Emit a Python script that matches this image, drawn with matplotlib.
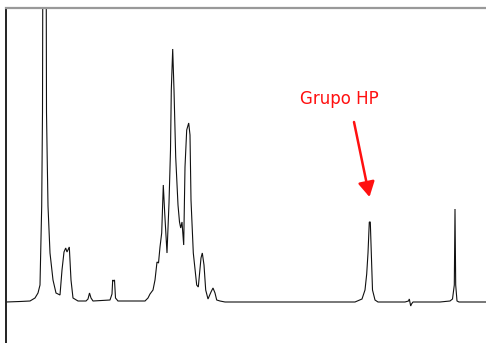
import matplotlib
matplotlib.use("Agg")
import matplotlib.pyplot as plt

# Espectro trazado a mano desde la imagen (posicion horizontal, intensidad sobre la linea base)
pos = [6, 20, 30, 35, 38, 40, 41.7, 42.5, 43, 46, 46.5, 47.2, 48, 50, 53, 56, 60,
       62, 64, 65.7, 67, 69.3, 71, 73, 78,
       86, 88, 89.5, 91, 93,
       110, 112, 112.7, 113.5, 114.5, 115.5, 118,
       130, 145, 148, 150, 153, 155, 157, 158.5, 160, 161.7, 163.3, 164.7, 167, 169,
       170.5, 171.3, 172.7, 174, 175.7, 178, 179.5, 180.7, 182, 183.7, 185, 186.7,
       188.7, 190, 191, 193.3, 196.7, 198.3, 201, 202.3, 204, 205.7, 208, 211, 213,
       215, 216.7, 220, 225,
       300, 355, 362, 365, 366.7, 368, 369.3, 370.3, 371.3, 372.5, 375, 378,
       405, 408.5, 409.3, 410.7, 411.5, 413,
       440, 450, 452.5, 454.3, 455, 455.7, 457, 459,
       486]
intensity = [0, 0.5, 1, 4, 9, 17, 96, 190, 420, 420, 190, 144, 96, 49, 22, 9, 7,
             32, 50, 54, 50, 55, 22, 4, 1,
             1, 3, 9, 4, 1,
             2, 8, 22, 21, 22, 4, 1,
             1, 1, 4, 8, 12, 22, 40, 39, 55, 69, 117, 89, 49, 99,
             152, 212, 253, 212, 145, 97, 80, 74, 80, 57, 135, 172,
             179, 167, 102, 49, 17, 15, 44, 49, 37, 12, 3, 10, 14,
             9, 2, 1, 0,
             0, 0, 3, 12, 28, 49, 80, 80, 49, 12, 2, 0,
             0, 1, 3, -4, -2, 0,
             0, 1, 3, 17, 93, 17, 1, 0,
             0]

etiqueta = "Grupo HP"

fig = plt.figure(figsize=(4.86, 3.43), dpi=100)
# el marco ocupa de x=6 a 486 px y de y=8 a 343 px
ax = fig.add_axes([6 / 486, 0, 480 / 486, 335 / 343])
ax.plot(pos, intensity, color="#111111", lw=0.8, solid_joinstyle="miter")
ax.set_xlim(6, 486)
ax.set_ylim(-41, 294)

for s in ("right", "bottom"):
    ax.spines[s].set_visible(False)
ax.spines["left"].set_color("#222222")
ax.spines["left"].set_linewidth(1.4)
ax.spines["top"].set_color("#999999")
ax.spines["top"].set_linewidth(1.6)
ax.set_xticks([])
ax.set_yticks([])

ax.text(339, 203, etiqueta, color="#ff1010", fontsize=12,
        ha="center", va="center", family="DejaVu Sans")
ax.annotate("", xy=(369.5, 105), xytext=(354, 180),
            arrowprops=dict(arrowstyle="-|>,head_length=0.9,head_width=0.5",
                            color="#ff1010", lw=1.8, shrinkA=0, shrinkB=0))

fig.savefig("out.png", dpi=100)
